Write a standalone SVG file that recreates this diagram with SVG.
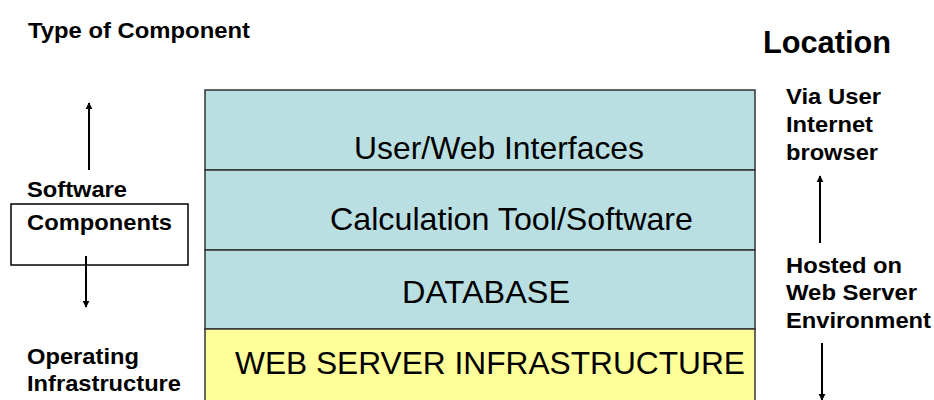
<svg xmlns="http://www.w3.org/2000/svg" width="934" height="400" viewBox="0 0 934 400">
  <defs>
    <marker id="arrow" viewBox="0 0 10 10" refX="9" refY="5" markerWidth="7" markerHeight="8" markerUnits="userSpaceOnUse" orient="auto">
      <path d="M0,0 L10,5 L0,10 z" fill="#000"/>
    </marker>
    <style>
      .label { font-family: "Liberation Sans", Arial, sans-serif; font-weight: bold; font-size: 22px; fill: #000; }
      .layer-text { font-family: "Liberation Sans", Arial, sans-serif; font-size: 32px; fill: #000; }
      .sw { fill: #BADFE2; stroke: #333; stroke-width: 1.5; }
      .infra { fill: #FFFF99; stroke: #333; stroke-width: 1.5; }
      .conn { stroke: #000; stroke-width: 2; fill: none; marker-end: url(#arrow); }
    </style>
  </defs>
  <rect width="934" height="400" fill="#fff"/>

  <!-- headings -->
  <text class="label" x="28" y="38" textLength="222" lengthAdjust="spacingAndGlyphs">Type of Component</text>
  <text class="label" x="763" y="53" style="font-size:31px" textLength="128" lengthAdjust="spacingAndGlyphs">Location</text>

  <!-- layer stack -->
  <g id="layer-ui">
    <rect class="sw" x="205" y="90" width="550" height="80"/>
    <text class="layer-text" x="354" y="159" textLength="290" lengthAdjust="spacingAndGlyphs">User/Web Interfaces</text>
  </g>
  <g id="layer-calc">
    <rect class="sw" x="205" y="170" width="550" height="80"/>
    <text class="layer-text" x="330" y="230" textLength="363" lengthAdjust="spacingAndGlyphs">Calculation Tool/Software</text>
  </g>
  <g id="layer-db">
    <rect class="sw" x="205" y="250" width="550" height="79"/>
    <text class="layer-text" x="402" y="303" textLength="168" lengthAdjust="spacingAndGlyphs">DATABASE</text>
  </g>
  <g id="layer-infra">
    <rect class="infra" x="205" y="329" width="550" height="80"/>
    <text class="layer-text" x="235" y="374" textLength="510" lengthAdjust="spacingAndGlyphs">WEB SERVER INFRASTRUCTURE</text>
  </g>

  <!-- left side: component type -->
  <g id="software-components">
    <rect x="11" y="204" width="177" height="61" fill="none" stroke="#000" stroke-width="1.5"/>
    <text class="label" x="27" y="197" textLength="100" lengthAdjust="spacingAndGlyphs">Software</text>
    <text class="label" x="27" y="230" textLength="145" lengthAdjust="spacingAndGlyphs">Components</text>
  </g>
  <g id="operating-infrastructure">
    <text class="label" x="27" y="364" textLength="112" lengthAdjust="spacingAndGlyphs">Operating</text>
    <text class="label" x="27" y="391" textLength="154" lengthAdjust="spacingAndGlyphs">Infrastructure</text>
  </g>

  <!-- right side: location -->
  <g id="via-browser">
    <text class="label" x="786" y="104" textLength="95" lengthAdjust="spacingAndGlyphs">Via User</text>
    <text class="label" x="786" y="132" textLength="87" lengthAdjust="spacingAndGlyphs">Internet</text>
    <text class="label" x="786" y="160" textLength="92" lengthAdjust="spacingAndGlyphs">browser</text>
  </g>
  <g id="hosted-env">
    <text class="label" x="786" y="273" textLength="116" lengthAdjust="spacingAndGlyphs">Hosted on</text>
    <text class="label" x="786" y="300" textLength="131" lengthAdjust="spacingAndGlyphs">Web Server</text>
    <text class="label" x="786" y="328" textLength="145" lengthAdjust="spacingAndGlyphs">Environment</text>
  </g>

  <!-- connectors -->
  <g id="connectors">
    <line class="conn" x1="89" y1="170" x2="89" y2="103"/>
    <line class="conn" x1="86" y1="256" x2="86" y2="307"/>
    <line class="conn" x1="820" y1="243" x2="820" y2="176"/>
    <line class="conn" x1="822" y1="343" x2="822" y2="400"/>
  </g>
</svg>
